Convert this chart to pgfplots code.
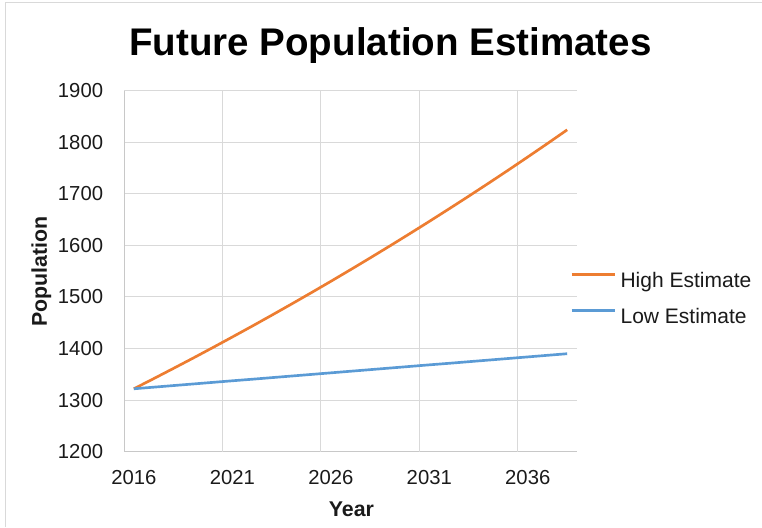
\documentclass[border=0pt]{standalone}
\usepackage{pgfplots}
\pgfplotsset{compat=1.18}
\usepackage{fontspec}
\setmainfont{Liberation Sans}

\definecolor{highC}{HTML}{ED7D31}
\definecolor{lowC}{HTML}{5B9BD5}
\definecolor{gridC}{HTML}{D9D9D9}
\definecolor{axisC}{HTML}{C8C8C8}
\definecolor{labC}{HTML}{1A1A1A}

\begin{document}
\begin{tikzpicture}
\useasboundingbox (0pt,0pt) rectangle (571.5pt,395.25pt);
% chart area frame
\draw[gridC, line width=0.75pt] (3.75pt,0pt) -- (3.75pt,393pt) -- (571.5pt,393pt);

\begin{axis}[
  at={(93pt,56.475pt)}, anchor=south west,
  scale only axis,
  width=339.75pt, height=270.75pt,
  xmin=2015.5, xmax=2038.5,
  ymin=1200, ymax=1900,
  xtick={2016,2021,2026,2031,2036},
  ytick={1200,1300,1400,1500,1600,1700,1800,1900},
  extra x ticks={2020.5,2025.5,2030.5,2035.5},
  extra x tick labels={},
  extra x tick style={grid=major, major tick length=0pt},
  ymajorgrids,
  major tick length=0pt,
  grid style={gridC, line width=0.75pt},
  axis x line*=bottom, axis y line*=left,
  axis line style={axisC, line width=0.75pt, -},
  /pgf/number format/1000 sep={},
  /pgf/number format/assume math mode=true,
  tick label style={font=\fontsize{15.2}{17}\selectfont, text=labC, inner sep=0pt},
  xticklabel style={anchor=center, yshift=-19pt},
  yticklabel style={anchor=east, xshift=-15.5pt},
  title={Future Population Estimates},
  title style={font=\fontsize{28.9}{32}\selectfont\bfseries, at={(axis description cs:0.588,1.0748)}, anchor=base, inner sep=0pt},
  xlabel={Year},
  xlabel style={font=\fontsize{16}{18}\selectfont\bfseries, text=labC, at={(axis description cs:0.502,-0.180)}, anchor=base, inner sep=0pt},
  ylabel={Population},
  ylabel style={font=\fontsize{16}{18}\selectfont\bfseries, text=labC, at={(axis description cs:-0.170,0.4986)}, anchor=base, rotate=0, inner sep=0pt},
  legend style={at={(axis description cs:0.9845,0.4997)}, anchor=north west,
    draw=none, fill=none, inner sep=0pt, row sep=12pt, column sep=3.5pt,
    font=\fontsize{15.75}{18}\selectfont, text=labC,
    nodes={inner sep=0pt, text height=12pt, text depth=3pt}},
  legend cell align=left,
  legend image code/.code={\draw[#1] (0pt,5.5pt) -- (32.25pt,5.5pt);},
]
\addplot[highC, line width=2pt, no markers] coordinates {
  (2016,1322.0) (2017,1341.5) (2018,1361.3) (2019,1381.3) (2020,1401.7)
  (2021,1422.4) (2022,1443.3) (2023,1464.6) (2024,1486.2) (2025,1508.1)
  (2026,1530.3) (2027,1552.9) (2028,1575.8) (2029,1599.0) (2030,1622.6)
  (2031,1646.5) (2032,1670.8) (2033,1695.4) (2034,1720.4) (2035,1745.7)
  (2036,1771.5) (2037,1797.6) (2038,1824.1)
};
\addlegendentry{High Estimate}
\addplot[lowC, line width=2pt, no markers] coordinates {
  (2016,1322.0) (2017,1325.1) (2018,1328.2) (2019,1331.3) (2020,1334.4)
  (2021,1337.5) (2022,1340.5) (2023,1343.6) (2024,1346.7) (2025,1349.8)
  (2026,1352.9) (2027,1356.0) (2028,1359.1) (2029,1362.2) (2030,1365.3)
  (2031,1368.4) (2032,1371.4) (2033,1374.5) (2034,1377.6) (2035,1380.7)
  (2036,1383.8) (2037,1386.9) (2038,1390.0)
};
\addlegendentry{Low Estimate}
\end{axis}
\end{tikzpicture}
\end{document}
